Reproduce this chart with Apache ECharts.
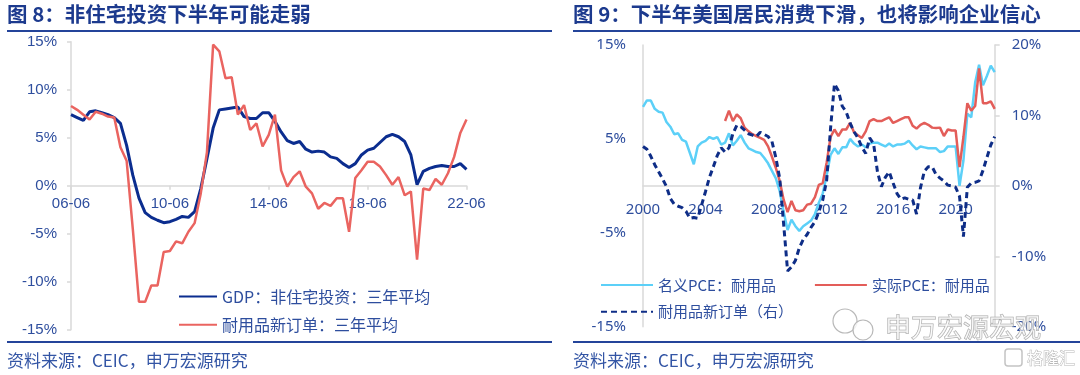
<!DOCTYPE html>
<html><head><meta charset="utf-8">
<script src="https://cdn.jsdelivr.net/npm/echarts@6/dist/echarts.min.js"></script>
<style>html,body{margin:0;padding:0;background:#fff}#c{width:1080px;height:375px}</style>
</head><body><div id="c"></div>
<script>
// ---------- Figure 8 (quarterly, 2006-06 .. 2022-06) ----------
const leftCategories = (function () {
  const out = [];
  for (let y = 2006; y <= 2022; y++) {
    for (const m of ['03', '06', '09', '12']) {
      const key = y * 100 + Number(m);
      if (key < 200606 || key > 202206) continue;
      out.push(String(y).slice(2) + '-' + m);
    }
  }
  return out;
})();
const gdpNonResInvest3y = [
  7.4, 7.1, 6.8, 7.7, 7.8, 7.6, 7.4, 7.1, 6.5, 4.2,
  1.1, -1.3, -2.8, -3.3, -3.6, -3.85, -3.75, -3.5, -3.2, -3.3,
  -2.7, -0.3, 2.8, 6.0, 7.9, 8.0, 8.1, 8.2, 7.2, 7.0,
  7.0, 7.6, 7.6, 6.7, 5.6, 4.7, 4.4, 4.6, 3.8, 3.5,
  3.6, 3.5, 3.0, 2.85, 2.3, 1.9, 2.3, 3.2, 3.7, 3.9,
  4.5, 5.1, 5.35, 5.1, 4.6, 3.2, 0.1, 1.5, 1.8, 2.0,
  2.1, 2.0, 2.0, 2.3, 1.7
];
const durableOrders3y = [
  8.3, 7.9, 7.4, 6.9, 7.7, 7.5, 7.2, 7.1, 4.0, 2.6,
  -4.5, -12.1, -12.1, -10.4, -10.4, -6.9, -6.8, -5.8, -6.0, -4.8,
  -3.9, -0.8, 3.5, 14.7, 14.0, 11.2, 11.3, 7.4, 8.4, 5.8,
  6.5, 4.1, 5.3, 7.4, 1.6, -0.1, 0.9, 1.5, -0.1, -0.8,
  -2.4, -1.8, -2.1, -1.3, -1.3, -4.8, 0.8, 1.6, 2.5, 2.5,
  2.0, 1.1, 0.1, 0.9, -1.0, -0.6, -7.7, -0.3, -0.45, 0.7,
  0.1, 1.3, 3.0, 5.5, 6.9
];
const leftYTicks = { min: -15, max: 15, interval: 5 };

// ---------- Figure 9 (quarterly, 2000Q1 .. 2022Q3) ----------
const rightCategories = (function () {
  const out = [];
  for (let y = 2000; y <= 2022; y++) {
    for (let q = 1; q <= 4; q++) {
      if (y === 2022 && q > 3) break;
      out.push(y + 'Q' + q);
    }
  }
  return out;
})();
const nominalPCEDurable = [
  8.4, 9.1, 9.1, 8.2,   7.9, 7.8, 6.8, 6.3,   5.5, 5.6, 4.9, 4.7,   3.5, 2.3, 4.2, 4.6,
  4.8, 5.2, 5.0, 5.2,   4.4, 4.6, 5.6, 4.3,   4.8, 5.4, 4.6, 4.0,   3.8, 3.6, 3.5, 3.0,
  2.4, 1.6, 0.8, -0.6,  -2.8, -4.7, -3.6, -4.3, -4.8, -4.3, -4.0, -3.7, -3.0, -1.8, -0.8, 1.1,
  3.3, 4.0, 3.4, 4.1,   4.1, 5.0, 4.5, 4.2,   4.4, 4.1, 4.5, 4.6,   4.6, 4.4, 4.2, 4.5,
  4.2, 4.4, 4.4, 4.5,   4.8, 4.3, 3.9, 4.2,   4.1, 4.0, 4.0, 4.0,   3.6, 3.7, 4.2, 4.2,
  4.2, 0.0, 2.7, 7.7,   7.3, 11.0, 12.9, 10.7, 11.7, 12.8, 12.1
];
const realPCEDurable = [
  null, null, null, null, null, null, null, null, null, null, null, null, null, null, null, null,
  null, null, null, null, null, 6.9, 8.0, 6.9, 7.6, 7.2, 6.2, 5.8, 5.5, 5.3, 5.1, 4.9,
  4.2, 3.1, 1.9, 0.5,   -1.5, -2.8, -1.6, -2.6, -2.7, -2.6, -2.0, -1.9, -1.2, 0.1, 0.3, 2.5,
  5.2, 6.0, 5.3, 6.0,   6.0, 6.7, 5.7, 5.4,   5.1, 5.8, 6.9, 7.1,   6.9, 6.9, 7.1, 7.3,
  6.7, 6.9, 7.1, 7.3,   7.3, 6.4, 6.1, 6.5,   6.7, 6.5, 6.2, 6.15,  6.2, 5.3, 6.0, 5.9,
  5.9, 2.0, 5.2, 8.8,   8.0, 8.5, 12.5, 8.8,  8.8, 9.0, 8.2
];
const durableNewOrders = [
  5.6, 5.2, 4.2, 3.0,   2.0, 1.0, -0.1, -1.8, -2.6, -2.9, -3.1, -3.6, -4.6, -4.5, -4.6, -2.7,
  -0.8, 1.2, 2.7, 4.3,  5.4, 4.8, 5.4, 7.4,   8.6, 8.4, 7.9, 7.4,   7.2, 7.0, 7.6, 7.3,
  7.0, 6.3, 4.0, 1.0,   -5.5, -12.1, -11.5, -10.6, -8.8, -7.6, -6.9, -5.9, -5.1, -3.7, -2.0, 0.8,
  8.2, 14.5, 13.5, 11.3, 10.5, 8.9, 7.7, 6.8, 5.5, 4.6, 6.8, 6.0,   2.0, -0.1, 1.2, 2.0,
  0.4, -1.1, -1.9, -1.7, -1.9, -2.0, -4.0, -0.3, 2.1, 2.7, 2.7, 1.6,  1.1, 0.7, 0.1, 0.0,
  -0.2, -1.5, -7.2, -0.2, 0.4, 0.5, 0.7, 2.2,  4.0, 5.8, 7.0
];
const rightLeftTicks = { min: -15, max: 15, interval: 10 };
const rightRightTicks = { min: -20, max: 20, interval: 10 };
const rightYearLabelEvery = 16; // quarters between year labels

// ---------- styling ----------
const CJK = '"Noto Sans CJK SC", "Noto Sans", sans-serif';
const LAT = '"Liberation Sans", Arial, sans-serif';
const NAVY = '#1C3A8E';
const LABEL = '#2E4E9E';
const GRAYAX = '#D9D9D9';

const chart = echarts.init(document.getElementById('c'), null, { renderer: 'canvas' });
const axisLineStyle = { color: GRAYAX, width: 1.5 };

// grid geometry (zero line placed by shifting the category axis up to value 0)
const G1 = { left: 71, top: 41.7, width: 395.5, height: 288 };
const G2 = { left: 643, top: 45, width: 351.7, height: 281.7 };
const zeroOffset1 = -G1.height * (0 - leftYTicks.min) / (leftYTicks.max - leftYTicks.min);
const zeroOffset2 = -G2.height * (0 - rightLeftTicks.min) / (rightLeftTicks.max - rightLeftTicks.min);

const option = {
  backgroundColor: '#fff',
  animation: false,
  grid: [
    Object.assign({ outerBoundsMode: 'none' }, G1),
    Object.assign({ outerBoundsMode: 'none' }, G2)
  ],
  xAxis: [
    {
      type: 'category', gridIndex: 0, data: leftCategories, boundaryGap: false,
      position: 'bottom', offset: zeroOffset1,
      axisLine: { onZero: false, lineStyle: axisLineStyle },
      axisTick: { show: true, interval: 15, length: 4, lineStyle: axisLineStyle },
      axisLabel: { interval: 15, color: LABEL, fontSize: 15, fontFamily: LAT, margin: 11, hideOverlap: false },
      splitLine: { show: false }
    },
    {
      type: 'category', gridIndex: 1, data: rightCategories, boundaryGap: false,
      position: 'bottom', offset: zeroOffset2,
      axisLine: { onZero: false, lineStyle: axisLineStyle },
      axisTick: { show: false },
      axisLabel: {
        interval: rightYearLabelEvery - 1, color: LABEL, fontSize: 15, fontFamily: '"Noto Sans", sans-serif', margin: 16,
        formatter: v => v.slice(0, 4), hideOverlap: false
      },
      splitLine: { show: false }
    }
  ],
  yAxis: [
    {
      type: 'value', gridIndex: 0, min: leftYTicks.min, max: leftYTicks.max, interval: leftYTicks.interval,
      axisLine: { show: true, onZero: false, lineStyle: axisLineStyle },
      axisTick: { show: true, length: 4, lineStyle: axisLineStyle },
      axisLabel: { formatter: '{value}%', color: LABEL, fontSize: 15, fontFamily: LAT, margin: 14 },
      splitLine: { show: false }
    },
    {
      type: 'value', gridIndex: 1, position: 'left',
      min: rightLeftTicks.min, max: rightLeftTicks.max, interval: rightLeftTicks.interval,
      axisLine: { show: true, onZero: false, lineStyle: axisLineStyle },
      axisTick: { show: false },
      axisLabel: { formatter: '{value}%', color: LABEL, fontSize: 15, fontFamily: '"Noto Sans", sans-serif', margin: 17 },
      splitLine: { show: false }
    },
    {
      type: 'value', gridIndex: 1, position: 'right',
      min: rightRightTicks.min, max: rightRightTicks.max, interval: rightRightTicks.interval,
      axisLine: { show: true, onZero: false, lineStyle: axisLineStyle },
      axisTick: { show: true, length: 5, lineStyle: axisLineStyle },
      axisLabel: { formatter: '{value}%', color: LABEL, fontSize: 15, fontFamily: '"Noto Sans", sans-serif', margin: 17, showMinLabel: true, hideOverlap: false },
      splitLine: { show: false }
    }
  ],
  legend: [
    {
      data: ['GDP：非住宅投资：三年平均', '耐用品新订单：三年平均'],
      orient: 'vertical', left: 178, top: 287.5, itemWidth: 38, itemHeight: 14, itemGap: 10.3,
      itemStyle: { opacity: 0 },
      textStyle: { color: LABEL, fontSize: 16, fontFamily: CJK, lineHeight: 18 },
      padding: 0
    },
    {
      data: ['名义PCE：耐用品', '实际PCE：耐用品'],
      orient: 'horizontal', left: 600, top: 276, itemWidth: 52, itemHeight: 14, itemGap: 38,
      itemStyle: { opacity: 0 },
      textStyle: { color: LABEL, fontSize: 15, fontFamily: CJK, lineHeight: 18 },
      padding: 0
    },
    {
      data: ['耐用品新订单（右）'],
      orient: 'horizontal', left: 600, top: 302.7, itemWidth: 52, itemHeight: 14,
      itemStyle: { opacity: 0 },
      textStyle: { color: LABEL, fontSize: 15, fontFamily: CJK, lineHeight: 18 },
      padding: 0
    }
  ],
  series: [
    {
      name: 'GDP：非住宅投资：三年平均', type: 'line', xAxisIndex: 0, yAxisIndex: 0,
      data: gdpNonResInvest3y, symbol: 'none',
      lineStyle: { color: '#0B2D8F', width: 3 }, itemStyle: { color: '#0B2D8F' }
    },
    {
      name: '耐用品新订单：三年平均', type: 'line', xAxisIndex: 0, yAxisIndex: 0,
      data: durableOrders3y, symbol: 'none',
      lineStyle: { color: '#EA6460', width: 2.5 }, itemStyle: { color: '#EA6460' }
    },
    {
      name: '名义PCE：耐用品', type: 'line', xAxisIndex: 1, yAxisIndex: 1,
      data: nominalPCEDurable, symbol: 'none',
      lineStyle: { color: '#5CD0F8', width: 2.5 }, itemStyle: { color: '#5CD0F8' }
    },
    {
      name: '实际PCE：耐用品', type: 'line', xAxisIndex: 1, yAxisIndex: 1,
      data: realPCEDurable, symbol: 'none', connectNulls: false,
      lineStyle: { color: '#E35D59', width: 2.5 }, itemStyle: { color: '#E35D59' }
    },
    {
      name: '耐用品新订单（右）', type: 'line', xAxisIndex: 1, yAxisIndex: 2,
      data: durableNewOrders, symbol: 'none',
      lineStyle: { color: '#0E2D87', width: 3, type: [6, 4] }, itemStyle: { color: '#0E2D87' }
    }
  ],
  graphic: [
    { type: 'text', left: 7, top: 4, style: { text: '图 8：非住宅投资下半年可能走弱', font: 'bold 20.5px ' + CJK, fill: NAVY } },
    { type: 'text', left: 573, top: 4, style: { text: '图 9：下半年美国居民消费下滑，也将影响企业信心', font: 'bold 20.5px ' + CJK, fill: NAVY } },
    { type: 'rect', shape: { x: 7, y: 30, width: 545, height: 2 }, style: { fill: '#24449A' }, silent: true },
    { type: 'rect', shape: { x: 573, y: 30, width: 507, height: 2 }, style: { fill: '#24449A' }, silent: true },
    { type: 'rect', shape: { x: 7, y: 341, width: 545, height: 2 }, style: { fill: '#24449A' }, silent: true },
    { type: 'rect', shape: { x: 573, y: 341, width: 507, height: 2 }, style: { fill: '#24449A' }, silent: true },
    { type: 'text', left: 7, top: 352, style: { text: '资料来源：CEIC，申万宏源研究', font: '17px ' + CJK, fill: '#3355A5' } },
    { type: 'text', left: 573, top: 352, style: { text: '资料来源：CEIC，申万宏源研究', font: '17px ' + CJK, fill: '#3355A5' } },
    { type: 'circle', shape: { cx: 845, cy: 321, r: 12 }, style: { fill: 'rgba(255,255,255,0.8)', stroke: '#B8B8B8', lineWidth: 1.2 }, z: 100 },
    { type: 'circle', shape: { cx: 863, cy: 330, r: 10 }, style: { fill: 'rgba(255,255,255,0.8)', stroke: '#B8B8B8', lineWidth: 1.2 }, z: 101 },
    { type: 'text', x: 885, y: 327, style: { text: '申万宏源宏观', font: '26px ' + CJK, fill: 'rgba(255,255,255,0.6)', stroke: '#A8A8A8', lineWidth: 1, verticalAlign: 'middle' }, z: 102 },
    { type: 'rect', shape: { x: 1005, y: 349, width: 17, height: 17, r: 3 }, style: { fill: '#fff', stroke: '#C4C4C4', lineWidth: 1.5 }, z: 100 },
    { type: 'text', x: 1027, y: 358, style: { text: '格隆汇', font: '16px ' + CJK, fill: '#fff', stroke: '#B8B8B8', lineWidth: 1, verticalAlign: 'middle' }, z: 100 }
  ]
};
chart.setOption(option);
</script></body></html>
